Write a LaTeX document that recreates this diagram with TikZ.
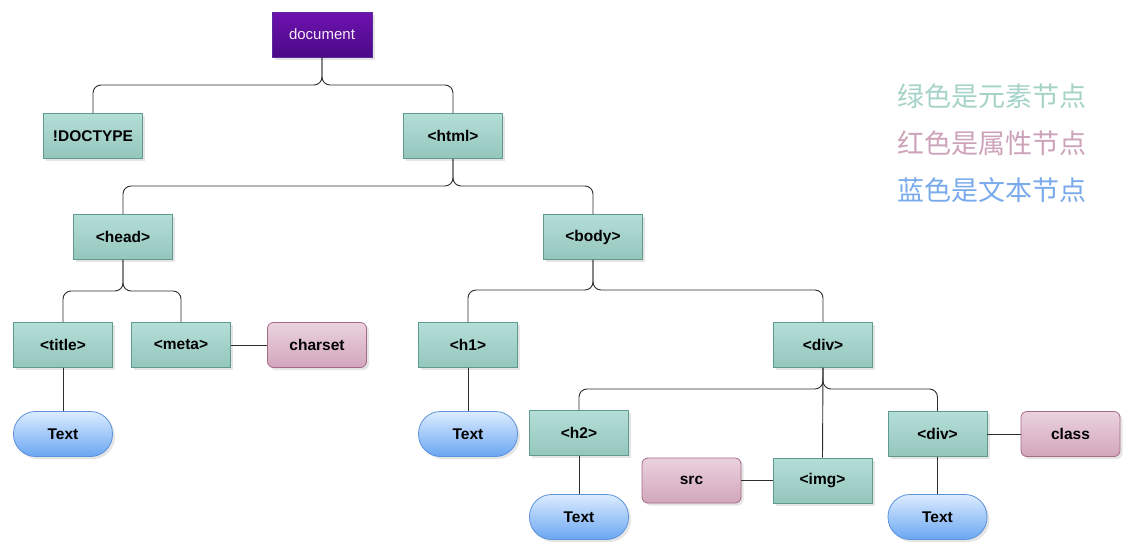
\documentclass[tikz,border=0pt]{standalone}
\usepackage{fontspec}
\setmainfont{Liberation Sans}
\newfontfamily\cjk{Noto Sans CJK SC}
\usetikzlibrary{shadows}
\definecolor{elemtop}{HTML}{B4DED8}
\definecolor{elembot}{HTML}{94C6BC}
\definecolor{elemborder}{HTML}{5E9A8E}
\definecolor{attrtop}{HTML}{EAD2DE}
\definecolor{attrbot}{HTML}{D2A6BC}
\definecolor{attrborder}{HTML}{A46A86}
\definecolor{txttop}{HTML}{DCECFF}
\definecolor{txtbot}{HTML}{6AA6F2}
\definecolor{txtborder}{HTML}{5C92DA}
\definecolor{doctop}{HTML}{6E12B0}
\definecolor{docbot}{HTML}{4A0A86}
\definecolor{docborder}{HTML}{5A2A9A}
\definecolor{conncol}{HTML}{2E2E2E}
\definecolor{leggreen}{HTML}{A6D3C7}
\definecolor{legred}{HTML}{CDA3BA}
\definecolor{legblue}{HTML}{78AAEC}
\begin{document}
\begin{tikzpicture}[x=1pt,y=-1pt,
  base/.style={line width=0.8pt, minimum width=99pt, minimum height=45pt, inner sep=2pt,
    font=\bfseries\fontsize{15.5}{17}\selectfont,
    drop shadow={shadow xshift=2.5pt, shadow yshift=-2.5pt, opacity=0.2}},
  elem/.style={base, draw=elemborder, top color=elemtop, bottom color=elembot},
  attr/.style={base, draw=attrborder, top color=attrtop, bottom color=attrbot, rounded corners=6pt},
  txt/.style={base, draw=txtborder, top color=txttop, bottom color=txtbot, rounded corners=22pt},
  docnode/.style={base, draw=docborder, top color=doctop, bottom color=docbot, text=white!92!violet, font=\fontsize{15}{17}\selectfont, minimum width=100pt},
  conn/.style={draw=conncol, line width=0.9pt, rounded corners=8pt},
  legend/.style={font=\cjk\fontsize{27}{31}\selectfont, anchor=center}
]
\useasboundingbox[fill=white] (0,0) rectangle (1141,554);

% nodes
\node[docnode] (document) at (322,34.5) {document};
\node[elem] (doctype) at (93,136) {!DOCTYPE};
\node[elem] (html) at (453,136) {<html>};
\node[elem] (head) at (123,237) {<head>};
\node[elem] (body) at (593,237) {<body>};
\node[elem] (title) at (63,345) {<title>};
\node[elem] (meta) at (181,345) {<meta>};
\node[attr] (charset) at (317,345) {charset};
\node[txt] (text1) at (63,434) {Text};
\node[elem] (h1) at (468,345) {<h1>};
\node[txt] (text2) at (468,434) {Text};
\node[elem] (div) at (823,345) {<div>};
\node[elem] (h2) at (579,433) {<h2>};
\node[attr] (src) at (691.5,480.5) {src};
\node[elem] (img) at (822.5,480.5) {<img>};
\node[elem] (div2) at (937.5,434) {<div>};
\node[attr] (class) at (1070.5,434) {class};
\node[txt] (text3) at (579,517) {Text};
\node[txt] (text4) at (937.5,517) {Text};

% junctions
\coordinate (j1) at (322,85);
\coordinate (j2) at (453,186);
\coordinate (j3) at (123,291);
\coordinate (j4) at (593,290);
\coordinate (j5) at (823,389);

% connectors
\draw[conn] (document.south) -- (j1) -| (doctype.north);
\draw[conn] (document.south) -- (j1) -| (html.north);
\draw[conn] (html.south) -- (j2) -| (head.north);
\draw[conn] (html.south) -- (j2) -| (body.north);
\draw[conn] (head.south) -- (j3) -| (title.north);
\draw[conn] (head.south) -- (j3) -| (meta.north);
\draw[conn] (body.south) -- (j4) -| (h1.north);
\draw[conn] (body.south) -- (j4) -| (div.north);
\draw[conn] (div.south) -- (j5) -| (h2.north);
\draw[conn] (div.south) -- (j5) -| (div2.north);
\draw[conn] (div.south) -- (img.north);
\draw[conn] (meta.east) -- (charset.west);
\draw[conn] (title.south) -- (text1.north);
\draw[conn] (h1.south) -- (text2.north);
\draw[conn] (h2.south) -- (text3.north);
\draw[conn] (div2.south) -- (text4.north);
\draw[conn] (img.west) -- (src.east);
\draw[conn] (div2.east) -- (class.west);

% legend
\node[legend, text=leggreen] (leg1) at (992,96) {绿色是元素节点};
\node[legend, text=legred] (leg2) at (992,143) {红色是属性节点};
\node[legend, text=legblue] (leg3) at (992,190) {蓝色是文本节点};
\end{tikzpicture}
\end{document}
